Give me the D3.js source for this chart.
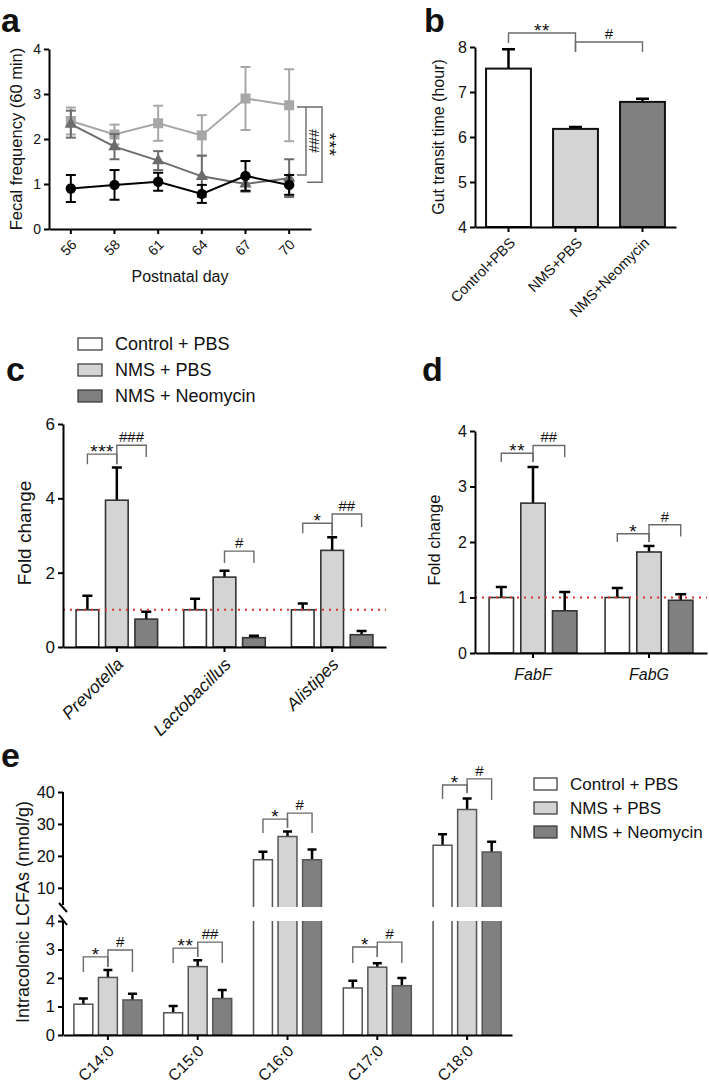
<!DOCTYPE html>
<html><head><meta charset="utf-8">
<script src="https://cdn.jsdelivr.net/npm/d3@7"></script>
<style>
body{margin:0;background:#fff}
svg{display:block}
text{font-family:"Liberation Sans",Arial,Helvetica,sans-serif;fill:#111}
</style>
</head><body>
<svg id="fig" width="709" height="1089"></svg>
<script>
// ---------------- DATA ----------------
const groupNames = ["Control + PBS", "NMS + PBS", "NMS + Neomycin"];

// panel a: fecal frequency
const days = ["56", "58", "61", "64", "67", "70"];
const aControlMean = [0.9, 0.98, 1.05, 0.78, 1.18, 0.98];
const aControlSem  = [0.3, 0.33, 0.2, 0.2, 0.33, 0.22];
const aNmsMean = [2.4, 2.1, 2.35, 2.08, 2.9, 2.75];
const aNmsSem  = [0.3, 0.22, 0.39, 0.45, 0.7, 0.8];
const aNeoMean = [2.33, 1.83, 1.52, 1.17, 1.0, 1.13];
const aNeoSem  = [0.3, 0.28, 0.21, 0.46, 0.17, 0.42];
const aTicks = [0, 1, 2, 3, 4];
const aBrackets = [[2.71, 1.2, "###"], [2.71, 1.04, "***"]];

// panel b: gut transit time
const bGroups = ["Control+PBS", "NMS+PBS", "NMS+Neomycin"];
const bMean = [7.52, 6.18, 6.78];
const bSem = [0.43, 0.04, 0.07];
const bTicks = [4, 5, 6, 7, 8];
// [from, to, yTop, yEndFrom, yEndTo, label]
const bBrackets = [[0, 1, 8.31, 8.09, 7.89, "**"], [1, 2, 8.11, 7.89, 7.89, "#"]];

// panel c: bacteria fold change
const cGenera = ["Prevotella", "Lactobacillus", "Alistipes"];
const cControlMean = [1.0, 1.0, 1.0];
const cControlSem  = [0.38, 0.3, 0.17];
const cNmsMean = [3.95, 1.88, 2.6];
const cNmsSem  = [0.88, 0.17, 0.35];
const cNeoMean = [0.75, 0.25, 0.33];
const cNeoSem  = [0.2, 0.05, 0.1];
const cTicks = [0, 2, 4, 6];
// [category, from, to, yTop, yEndFrom, yEndTo, label]
const cBrackets = [
  [0, 0, 1, 5.19, 4.92, 4.92, "***"], [0, 1, 2, 5.43, 4.92, 5.11, "###"],
  [1, 1, 2, 2.58, 2.26, 2.26, "#"],
  [2, 0, 1, 3.33, 3.06, 3.0, "*"], [2, 1, 2, 3.58, 3.0, 3.23, "##"]
];

// panel d: gene fold change
const dGenes = ["FabF", "FabG"];
const dControlMean = [1.0, 1.0];
const dControlSem  = [0.19, 0.17];
const dNmsMean = [2.7, 1.82];
const dNmsSem  = [0.65, 0.11];
const dNeoMean = [0.76, 0.95];
const dNeoSem  = [0.34, 0.11];
const dTicks = [0, 1, 2, 3, 4];
const dBrackets = [
  [0, 0, 1, 3.6, 3.44, 3.44, "**"], [0, 1, 2, 3.74, 3.44, 3.53, "##"],
  [1, 0, 1, 2.15, 2.0, 2.0, "*"], [1, 1, 2, 2.31, 2.0, 2.1, "#"]
];

// panel e: intracolonic LCFAs
const eAcids = ["C14:0", "C15:0", "C16:0", "C17:0", "C18:0"];
const eControlMean = [1.08, 0.78, 18.8, 1.65, 23.3];
const eControlSem  = [0.2, 0.24, 2.5, 0.25, 3.5];
const eNmsMean = [2.02, 2.4, 26.1, 2.38, 34.5];
const eNmsSem  = [0.26, 0.22, 1.5, 0.14, 3.5];
const eNeoMean = [1.23, 1.28, 18.8, 1.73, 21.2];
const eNeoSem  = [0.22, 0.3, 3.2, 0.27, 3.2];
const eTicksLow = [0, 1, 2, 3, 4];
const eTicksHigh = [10, 20, 30, 40];
const eBrackets = [
  [0, 0, 1, 2.74, 2.21, 2.39, "*"], [0, 1, 2, 2.98, 2.39, 2.21, "#"],
  [1, 0, 1, 3.05, 2.53, 2.74, "**"], [1, 1, 2, 3.26, 2.74, 2.53, "##"],
  [2, 0, 1, 31.5, 27.2, 28.7, "*"], [2, 1, 2, 33.4, 28.7, 27.2, "#"],
  [3, 0, 1, 3.09, 2.53, 2.74, "*"], [3, 1, 2, 3.26, 2.74, 2.53, "#"],
  [4, 0, 1, 42.2, 37.8, 39.7, "*"], [4, 1, 2, 44.1, 39.7, 37.5, "#"]
];

// ---------------- STYLE ----------------
const FILLS = ["#ffffff", "#d4d4d4", "#808080"];
const LINES = ["#000000", "#a7a7a7", "#6c6c6c"];
const BRK = "#6a6a6a";
const svg = d3.select("#fig");

function styleAxis(g) {
  g.select(".domain").attr("stroke", "#000").attr("stroke-width", 2);
  g.selectAll(".tick line").attr("stroke", "#000").attr("stroke-width", 2);
  g.selectAll("text").remove();
}
function yTickLabels(g, scale, ticks, xAxis, fs) {
  g.selectAll(null).data(ticks).join("text")
    .attr("x", xAxis - 8).attr("y", d => scale(d)).attr("dy", "0.36em")
    .attr("text-anchor", "end").attr("font-size", fs).text(d => d);
}
function yTitle(g, text, xBase, yc, fs) {
  g.append("text").attr("transform", `translate(${xBase},${yc}) rotate(-90)`)
    .attr("text-anchor", "middle").attr("font-size", fs).text(text);
}
function rotLabels(g, cats, xs, yBase, fs, italic, dx, dy) {
  g.selectAll(null).data(cats).join("text")
    .attr("transform", d => `translate(${xs(d) + dx},${yBase + dy}) rotate(-45)`)
    .attr("text-anchor", "end").attr("dy", "0.36em").attr("font-size", fs)
    .attr("font-style", italic ? "italic" : "normal").text(d => d);
}
function bracket(g, xa, xb, yT, yA, yB, label) {
  g.append("path").attr("d", `M${xa},${yA}V${yT}H${xb}V${yB}`)
    .attr("fill", "none").attr("stroke", BRK).attr("stroke-width", 1.4);
  const star = label[0] === "*";
  g.append("text").attr("x", (xa + xb) / 2).attr("y", star ? yT + 4 : yT - 3)
    .attr("text-anchor", "middle").attr("font-size", star ? 19 : 15)
    .attr("letter-spacing", star ? 0.5 : 0).text(label);
}
function panelLabel(t, x, y) {
  svg.append("text").attr("x", x).attr("y", y).attr("font-size", 34)
    .attr("font-weight", "bold").attr("fill", "#000").text(t);
}
function errBar(g, x, yTop, yBot, cap, color, w) {
  g.append("path").attr("d", `M${x},${yBot}V${yTop}M${x - cap / 2},${yTop}H${x + cap / 2}`)
    .attr("stroke", color).attr("stroke-width", w).attr("fill", "none");
}

// ---------------- PANEL A ----------------
(function () {
  const g = svg.append("g");
  const x = d3.scaleBand().domain(days).range([49, 311]);
  const y = d3.scaleLinear().domain([0, 4]).range([229, 49]);
  const cx = d => x(d) + x.bandwidth() / 2;
  g.append("g").attr("transform", "translate(49,0)")
    .call(d3.axisLeft(y).tickValues(aTicks).tickSize(5).tickSizeOuter(0)).call(styleAxis);
  g.append("g").attr("transform", "translate(0,229)")
    .call(d3.axisBottom(x).tickSize(5).tickSizeOuter(0)).call(styleAxis);
  yTickLabels(g, y, aTicks, 49, 14);
  rotLabels(g, days, cx, 229, 14, false, 3, 13);
  g.append("text").attr("x", 180).attr("y", 282).attr("text-anchor", "middle").attr("font-size", 16).text("Postnatal day");
  yTitle(g, "Fecal frequency (60 min)", 22, 139, 16.5);

  const series = [
    { m: aNmsMean, s: aNmsSem, c: LINES[1], sym: "square" },
    { m: aNeoMean, s: aNeoSem, c: LINES[2], sym: "triangle" },
    { m: aControlMean, s: aControlSem, c: LINES[0], sym: "circle" }
  ];
  series.forEach(se => {
    const pts = days.map((d, i) => [cx(d), y(se.m[i])]);
    g.append("path").attr("d", d3.line()(pts)).attr("fill", "none").attr("stroke", se.c).attr("stroke-width", 2);
    days.forEach((d, i) => errBar(g, cx(d), y(se.m[i] + se.s[i]), y(se.m[i] - se.s[i]), 0, se.c, 2));
    days.forEach((d, i) => {
      [se.m[i] + se.s[i], se.m[i] - se.s[i]].forEach(v =>
        g.append("line").attr("x1", cx(d) - 5).attr("x2", cx(d) + 5).attr("y1", y(v)).attr("y2", y(v))
          .attr("stroke", se.c).attr("stroke-width", 2));
    });
    const symType = se.sym === "square" ? d3.symbolSquare : se.sym === "triangle" ? d3.symbolTriangle : d3.symbolCircle;
    const size = se.sym === "square" ? 100 : se.sym === "triangle" ? 65 : 85;
    g.selectAll(null).data(days).join("path")
      .attr("transform", (d, i) => `translate(${cx(d)},${y(se.m[i])})`)
      .attr("d", d3.symbol(symType, size)).attr("fill", se.c);
  });
  // significance brackets (vertical)
  const [b1, b2] = aBrackets;
  g.append("path").attr("d", `M297,${y(b1[0])}H306V${y(b1[1])}H297`).attr("fill", "none").attr("stroke", BRK).attr("stroke-width", 1.4);
  g.append("path").attr("d", `M306,${y(b2[0])}H322V${y(b2[1])}H307`).attr("fill", "none").attr("stroke", BRK).attr("stroke-width", 1.4);
  g.append("text").attr("transform", `translate(309,${(y(b1[0]) + y(b1[1])) / 2}) rotate(90)`).attr("text-anchor", "middle").attr("font-size", 14).text(b1[2]);
  g.append("text").attr("transform", `translate(323,${(y(b2[0]) + y(b2[1])) / 2}) rotate(90)`).attr("text-anchor", "middle").attr("font-size", 19).attr("letter-spacing", 0.5).text(b2[2]);
  panelLabel("a", 1, 32);
})();

// ---------------- PANEL B ----------------
(function () {
  const g = svg.append("g");
  const x = d3.scaleBand().domain(bGroups).range([475, 676]);
  const y = d3.scaleLinear().domain([4, 8]).range([227, 47]);
  const cx = d => x(d) + x.bandwidth() / 2;
  const bw = x.bandwidth() * 0.67;
  bGroups.forEach((d, i) => {
    errBar(g, cx(d), y(bMean[i] + bSem[i]), y(bMean[i]), 13, "#000", 2.5);
    g.append("rect").attr("x", cx(d) - bw / 2).attr("y", y(bMean[i])).attr("width", bw).attr("height", y(4) - y(bMean[i]))
      .attr("fill", FILLS[i]).attr("stroke", "#111").attr("stroke-width", 2);
  });
  g.append("g").attr("transform", "translate(475,0)")
    .call(d3.axisLeft(y).tickValues(bTicks).tickSize(5).tickSizeOuter(0)).call(styleAxis);
  g.append("g").attr("transform", "translate(0,227)")
    .call(d3.axisBottom(x).tickSize(5).tickSizeOuter(0)).call(styleAxis);
  yTickLabels(g, y, bTicks, 475, 16);
  rotLabels(g, bGroups, cx, 227, 14.5, false, 4, 13);
  yTitle(g, "Gut transit time (hour)", 444, 137, 16);
  bBrackets.forEach(b => bracket(g, cx(bGroups[b[0]]), cx(bGroups[b[1]]), y(b[2]), y(b[3]), y(b[4]), b[5]));
  panelLabel("b", 424, 32);
})();

// ---------------- grouped bars helper ----------------
function groupedBars(g, cats, means, sems, x0, y, yBase, opt) {
  const x1 = d3.scaleBand().domain([0, 1, 2]).range([-x0.bandwidth() * 0.41, x0.bandwidth() * 0.41])
    .paddingInner(0.23).paddingOuter(0.115);
  const bx = (ci, si) => x0(cats[ci]) + x0.bandwidth() / 2 + x1(si) + x1.bandwidth() / 2;
  cats.forEach((c, ci) => {
    [0, 1, 2].forEach(si => {
      const m = means[si][ci], s = sems[si][ci], xc = bx(ci, si);
      errBar(g, xc, y(m + s), y(m), opt.cap, "#000", 2.5);
      g.append("rect").attr("x", xc - x1.bandwidth() / 2).attr("y", y(m)).attr("width", x1.bandwidth())
        .attr("height", yBase - y(m)).attr("fill", FILLS[si]).attr("stroke", opt.stroke).attr("stroke-width", 1.6);
    });
  });
  return bx;
}
function legend(g, x, yc, step, fs, w, h) {
  groupNames.forEach((n, i) => {
    g.append("rect").attr("x", x).attr("y", yc + i * step - h / 2).attr("width", w).attr("height", h)
      .attr("fill", FILLS[i]).attr("stroke", "#333").attr("stroke-width", 1.2);
    g.append("text").attr("x", x + w + 13).attr("y", yc + i * step).attr("dy", "0.36em").attr("font-size", fs).text(n);
  });
}

// ---------------- PANEL C ----------------
(function () {
  const g = svg.append("g");
  const x0 = d3.scaleBand().domain(cGenera).range([63, 386]);
  const y = d3.scaleLinear().domain([0, 6]).range([647, 424]);
  const bx = groupedBars(g, cGenera, [cControlMean, cNmsMean, cNeoMean], [cControlSem, cNmsSem, cNeoSem], x0, y, 647, { cap: 10, stroke: "#333" });
  g.append("line").attr("x1", 63).attr("x2", 386).attr("y1", y(1)).attr("y2", y(1))
    .attr("stroke", "#d9352e").attr("stroke-width", 2).attr("stroke-dasharray", "2,5");
  g.append("g").attr("transform", "translate(63,0)")
    .call(d3.axisLeft(y).tickValues(cTicks).tickSize(5).tickSizeOuter(0)).call(styleAxis);
  g.append("g").attr("transform", "translate(0,647)")
    .call(d3.axisBottom(x0).tickSize(5).tickSizeOuter(0)).call(styleAxis);
  yTickLabels(g, y, cTicks, 63, 17);
  rotLabels(g, cGenera, d => x0(d) + x0.bandwidth() / 2, 647, 17.5, true, 3, 14);
  yTitle(g, "Fold change", 31, 533, 19);
  cBrackets.forEach(b => bracket(g, bx(b[0], b[1]), bx(b[0], b[2]), y(b[3]), y(b[4]), y(b[5]), b[6]));
  legend(g, 78, 344, 26, 18, 24, 12);
  panelLabel("c", 6, 381);
})();

// ---------------- PANEL D ----------------
(function () {
  const g = svg.append("g");
  const x0 = d3.scaleBand().domain(dGenes).range([475, 707]);
  const y = d3.scaleLinear().domain([0, 4]).range([653, 431]);
  const bx = groupedBars(g, dGenes, [dControlMean, dNmsMean, dNeoMean], [dControlSem, dNmsSem, dNeoSem], x0, y, 653, { cap: 11, stroke: "#333" });
  g.append("line").attr("x1", 475).attr("x2", 707).attr("y1", y(1)).attr("y2", y(1))
    .attr("stroke", "#d9352e").attr("stroke-width", 2).attr("stroke-dasharray", "2,5");
  g.append("g").attr("transform", "translate(475,0)")
    .call(d3.axisLeft(y).tickValues(dTicks).tickSize(5).tickSizeOuter(0)).call(styleAxis);
  g.append("g").attr("transform", "translate(0,653)")
    .call(d3.axisBottom(x0).tickSize(5).tickSizeOuter(0)).call(styleAxis);
  yTickLabels(g, y, dTicks, 475, 16);
  g.selectAll(null).data(dGenes).join("text").attr("x", d => x0(d) + x0.bandwidth() / 2).attr("y", 680)
    .attr("text-anchor", "middle").attr("font-size", 16).attr("font-style", "italic").text(d => d);
  yTitle(g, "Fold change", 440, 540, 16.5);
  dBrackets.forEach(b => bracket(g, bx(b[0], b[1]), bx(b[0], b[2]), y(b[3]), y(b[4]), y(b[5]), b[6]));
  panelLabel("d", 422, 381);
})();

// ---------------- PANEL E ----------------
(function () {
  const g = svg.append("g");
  const x0 = d3.scaleBand().domain(eAcids).range([63, 512]);
  const yLo = d3.scaleLinear().domain([0, 4]).range([1035, 921]);
  const yHi = d3.scaleLinear().domain([4, 40]).range([907, 792]);
  const yE = v => (v <= 4 ? yLo(v) : yHi(v));
  const x1 = d3.scaleBand().domain([0, 1, 2]).range([-x0.bandwidth() * 0.41, x0.bandwidth() * 0.41])
    .paddingInner(0.23).paddingOuter(0.115);
  const bw = x1.bandwidth();
  const bx = (ci, si) => x0(eAcids[ci]) + x0.bandwidth() / 2 + x1(si) + bw / 2;
  const means = [eControlMean, eNmsMean, eNeoMean], sems = [eControlSem, eNmsSem, eNeoSem];
  eAcids.forEach((c, ci) => {
    [0, 1, 2].forEach(si => {
      const m = means[si][ci], s = sems[si][ci], xc = bx(ci, si), xl = xc - bw / 2, xr = xc + bw / 2;
      errBar(g, xc, yE(m + s), yE(m), 9, "#000", 2.5);
      if (m <= 4) {
        g.append("rect").attr("x", xl).attr("y", yLo(m)).attr("width", bw).attr("height", yLo(0) - yLo(m))
          .attr("fill", FILLS[si]).attr("stroke", "#555").attr("stroke-width", 1.5);
      } else {
        g.append("rect").attr("x", xl).attr("y", yLo(4)).attr("width", bw).attr("height", yLo(0) - yLo(4)).attr("fill", FILLS[si]);
        g.append("path").attr("d", `M${xl},${yLo(4)}V${yLo(0)}M${xr},${yLo(4)}V${yLo(0)}`).attr("stroke", "#555").attr("stroke-width", 1.5);
        g.append("rect").attr("x", xl).attr("y", yHi(m)).attr("width", bw).attr("height", yHi(4) - yHi(m)).attr("fill", FILLS[si]);
        g.append("path").attr("d", `M${xl},${yHi(4)}V${yHi(m)}H${xr}V${yHi(4)}`).attr("fill", "none").attr("stroke", "#555").attr("stroke-width", 1.5);
      }
    });
  });
  const hiAx = g.append("g").attr("transform", "translate(63,0)")
    .call(d3.axisLeft(yHi).tickValues(eTicksHigh).tickSize(5).tickSizeOuter(0)).call(styleAxis);
  hiAx.select(".domain").attr("d", `M0,${yHi(4) - 2}V${yHi(40)}`);
  const loAx = g.append("g").attr("transform", "translate(63,0)")
    .call(d3.axisLeft(yLo).tickValues(eTicksLow).tickSize(5).tickSizeOuter(0)).call(styleAxis);
  loAx.select(".domain").attr("d", `M0,${yLo(0)}V${yLo(4) + 1}`);
  // axis break marks
  g.append("path").attr("d", `M59,${yHi(4) - 4}L67,${yHi(4) + 5}M59,${yLo(4) - 6}L67,${yLo(4) + 4}`)
    .attr("stroke", "#000").attr("stroke-width", 2);
  g.append("g").attr("transform", "translate(0,1035)")
    .call(d3.axisBottom(x0).tickSize(5).tickSizeOuter(0)).call(styleAxis);
  yTickLabels(g, yHi, eTicksHigh, 63, 16.5);
  yTickLabels(g, yLo, eTicksLow, 63, 16.5);
  rotLabels(g, eAcids, d => x0(d) + x0.bandwidth() / 2, 1035, 16, false, 3, 13);
  yTitle(g, "Intracolonic LCFAs (nmol/g)", 29, 912, 18);
  eBrackets.forEach(b => bracket(g, bx(b[0], b[1]), bx(b[0], b[2]), yE(b[3]), yE(b[4]), yE(b[5]), b[6]));
  legend(g, 534, 784, 24, 17, 23, 12);
  panelLabel("e", 1, 767);
})();
</script>
</body></html>
